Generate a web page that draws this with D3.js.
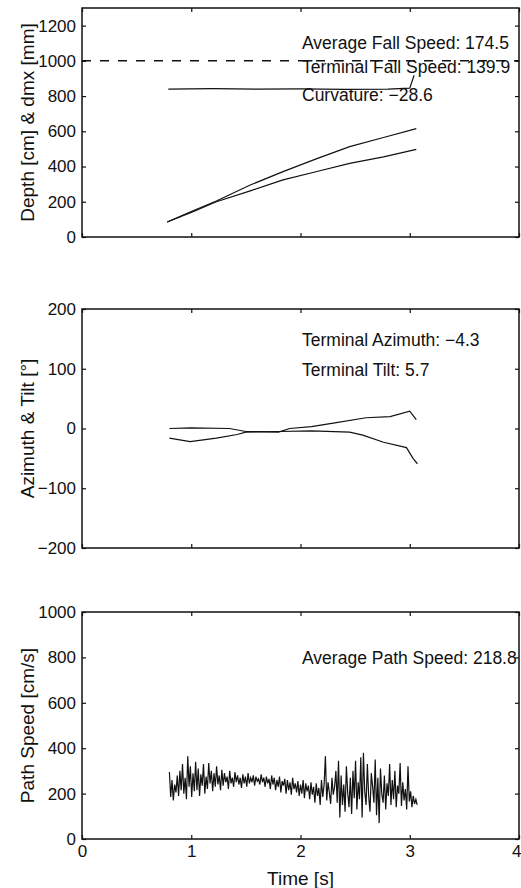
<!DOCTYPE html>
<html>
<head>
<meta charset="utf-8">
<script src="https://cdn.jsdelivr.net/npm/d3@7"></script>
<style>
  body { margin: 0; background: #fff; }
  svg { display: block; font-family: "Liberation Sans", Arial, Helvetica, sans-serif; }
  .axis text { font-size: 17px; fill: #111; }
  .axis path { display: none; }
  .axis line { stroke: #111; stroke-width: 1.2; }
</style>
</head>
<body>
<svg width="521" height="888"></svg>
<script>
// data

// panel 1: depth and dmx
var depthT = [0.78, 1.0, 1.23, 1.54, 1.84, 2.15, 2.45, 2.76, 3.06];
var depthA = [85, 145, 204, 295, 371, 445, 513, 565, 615];
var depthB = [85, 140, 200, 262, 324, 372, 418, 455, 497];
var dmxT = [0.79, 1.2, 1.6, 2.0, 2.4, 2.8, 3.0, 3.04];
var dmx = [840, 842, 839, 841, 838, 840, 845, 918];
var avgFallLevel = 1000;

// panel 2: azimuth and tilt
var tiltT = [0.80, 1.0, 1.35, 1.5, 1.8, 1.9, 2.1, 2.3, 2.6, 2.82, 3.0, 3.06];
var tilt = [0, 1, 0, -5, -6, 0, 3, 9, 18, 20, 29, 15];
var aziT = [0.80, 0.99, 1.23, 1.42, 1.5, 1.8, 2.1, 2.45, 2.57, 2.76, 2.97, 3.03, 3.07];
var azi = [-16, -22, -16, -10, -6, -5, -4, -6, -11, -23, -32, -50, -59];

// panel 3: path speed, sampled every 0.012 s from 0.80 s
var speedT0 = 0.80, speedDt = 0.012;
var speed = [
  295, 185, 260, 170, 240, 205, 280, 190, 300, 215,
  330, 200, 270, 175, 365, 230, 320, 185, 290, 210,
  340, 215, 310, 190, 285, 235, 330, 200, 275, 220,
  335, 245, 300, 210, 290, 230, 320, 240, 280, 215,
  305, 235, 290, 250, 275, 220, 300, 245, 270, 230,
  295, 250, 280, 240, 270, 225, 285, 245, 275, 230,
  290, 245, 270, 250, 280, 235, 275, 255, 265, 240,
  285, 250, 270, 230, 275, 245, 265, 220, 280, 240,
  270, 215, 260, 230, 275, 205, 255, 235, 265, 200,
  260, 215, 250, 195, 270, 220, 245, 205, 255, 190,
  240, 200, 260, 180, 245, 210, 235, 175, 250, 195,
  230, 160, 245, 190, 225, 150, 260, 185, 240, 365,
  170, 250, 205, 155, 270, 195, 230, 300, 160, 345,
  95, 280, 150, 240, 120, 320, 205, 140, 270, 110,
  300, 180, 345, 130, 250, 175, 360, 95, 380, 210,
  150, 330, 190, 120, 290, 230, 160, 350, 105, 270,
  70, 310, 200, 160, 280, 130, 245, 190, 330, 150,
  260, 175, 300, 140, 235, 200, 335, 145, 250, 170,
  220, 130, 320, 165, 210, 140, 190, 155, 175, 150
];

var xTicks = [0, 1, 2, 3, 4];
var depthTicks = [0, 200, 400, 600, 800, 1000, 1200];
var angleTicks = [-200, -100, 0, 100, 200];
var speedTicks = [0, 200, 400, 600, 800, 1000];

var svg = d3.select("svg");
svg.append("rect").attr("width", 521).attr("height", 888).attr("fill", "#fff");

var left = 82, right = 519;
var x = d3.scaleLinear().domain([0, 4]).range([left, right]);
var fmt = d3.format("d");

// one MATLAB style panel: box, inward ticks all round
function panel(top, bottom, domain, ticks, label, showX) {
  var y = d3.scaleLinear().domain(domain).range([bottom, top]);
  var g = svg.append("g");

  g.append("g").attr("class", "axis")
    .attr("transform", "translate(" + left + ",0)")
    .call(d3.axisLeft(y).tickValues(ticks).tickSizeInner(-4).tickSizeOuter(0).tickPadding(6).tickFormat(fmt));
  g.append("g").attr("class", "axis")
    .attr("transform", "translate(" + right + ",0)")
    .call(d3.axisRight(y).tickValues(ticks).tickSizeInner(-4).tickSizeOuter(0).tickFormat(""));
  g.append("g").attr("class", "axis")
    .attr("transform", "translate(0," + top + ")")
    .call(d3.axisTop(x).tickValues(xTicks).tickSizeInner(-4).tickSizeOuter(0).tickFormat(""));
  var bx = g.append("g").attr("class", "axis")
    .attr("transform", "translate(0," + bottom + ")")
    .call(d3.axisBottom(x).tickValues(xTicks).tickSizeInner(-4).tickSizeOuter(0)
      .tickPadding(6).tickFormat(showX ? fmt : ""));
  // last label sits on the window edge, keep it inside
  bx.selectAll(".tick text").filter(function(d) { return d === 4; })
    .attr("text-anchor", "end").attr("x", 2);

  g.append("rect")
    .attr("x", left).attr("y", top)
    .attr("width", right - left).attr("height", bottom - top)
    .attr("fill", "none").attr("stroke", "#111").attr("stroke-width", 1.5);

  g.append("text")
    .attr("transform", "translate(27," + (top + bottom) / 2 + ") rotate(-90)")
    .attr("text-anchor", "middle")
    .attr("dy", "0.35em")
    .attr("font-size", 19)
    .attr("fill", "#111")
    .text(label);

  return y;
}

function drawLine(y, ts, vs) {
  var line = d3.line()
    .x(function(d) { return x(d[0]); })
    .y(function(d) { return y(d[1]); });
  svg.append("path")
    .datum(ts.map(function(t, i) { return [t, vs[i]]; }))
    .attr("fill", "none")
    .attr("stroke", "#111")
    .attr("stroke-width", 1.2)
    .attr("d", line);
}

function note(txt, yCenter) {
  svg.append("text")
    .attr("x", 302)
    .attr("y", yCenter + 6)
    .attr("font-size", 17.5)
    .attr("fill", "#111")
    .text(txt);
}

// panel 1
var y1 = panel(8, 237, [0, 1300], depthTicks, "Depth [cm] & dmx [mm]", false);
svg.append("line")
  .attr("x1", x(0)).attr("x2", x(4))
  .attr("y1", y1(avgFallLevel)).attr("y2", y1(avgFallLevel))
  .attr("stroke", "#111").attr("stroke-width", 1.5)
  .attr("stroke-dasharray", "9,9");
drawLine(y1, depthT, depthA);
drawLine(y1, depthT, depthB);
drawLine(y1, dmxT, dmx);
note("Average Fall Speed: 174.5", 43);
note("Terminal Fall Speed: 139.9", 67);
note("Curvature: \u221228.6", 95);

// panel 2
var y2 = panel(309, 548, [-200, 200], angleTicks, "Azimuth & Tilt [\u00b0]", false);
drawLine(y2, tiltT, tilt);
drawLine(y2, aziT, azi);
note("Terminal Azimuth: \u22124.3", 340);
note("Terminal Tilt: 5.7", 370);

// panel 3
var y3 = panel(612, 839, [0, 1000], speedTicks, "Path Speed [cm/s]", true);
drawLine(y3, speed.map(function(d, i) { return speedT0 + i * speedDt; }), speed);
note("Average Path Speed: 218.8", 658);

svg.append("text")
  .attr("x", (left + right) / 2)
  .attr("y", 878)
  .attr("dy", "0.35em")
  .attr("text-anchor", "middle")
  .attr("font-size", 19)
  .attr("fill", "#111")
  .text("Time [s]");
</script>
</body>
</html>
